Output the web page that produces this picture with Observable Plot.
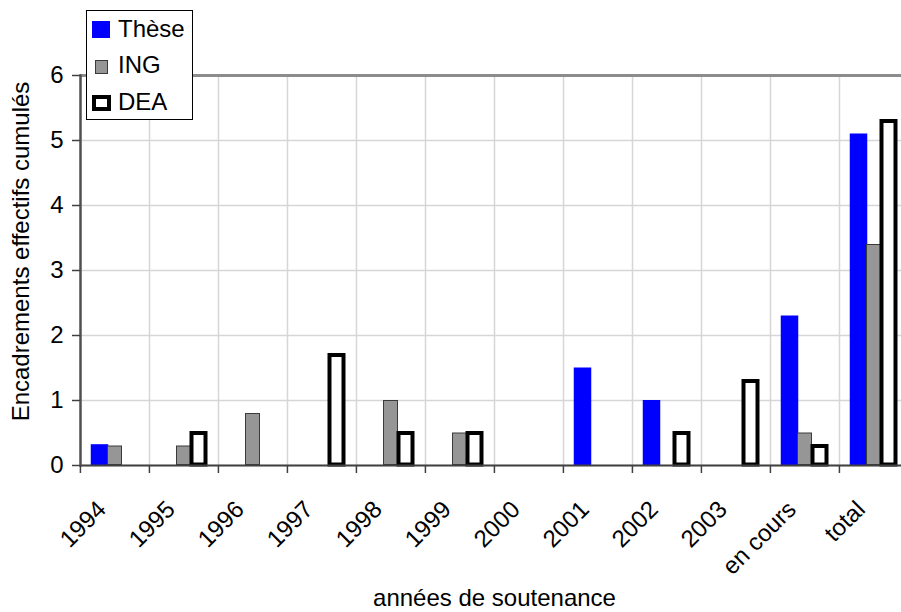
<!DOCTYPE html>
<html><head><meta charset="utf-8">
<script src="https://cdn.jsdelivr.net/npm/d3@7"></script>
<script src="https://cdn.jsdelivr.net/npm/@observablehq/plot@0.6"></script>
<style>
html,body{margin:0;padding:0;background:#fff;overflow:hidden;width:901px;height:612px}
#wrap{position:relative;width:901px;height:612px;overflow:hidden}
#chart svg{display:block;overflow:visible;max-width:none}
#legend{position:absolute;left:86px;top:10px;width:105px;height:108px;border:1px solid #000;background:#fff;font-family:"Liberation Sans",Arial,sans-serif;font-size:24px;color:#000}
#legend .lab{position:absolute;left:31px;line-height:24px;white-space:nowrap}
#legend .sw{position:absolute;box-sizing:border-box}
</style></head>
<body><div id="wrap"><div id="chart"></div><div id="legend"></div></div>
<script>
const categories = ["1994","1995","1996","1997","1998","1999","2000","2001","2002","2003","en cours","total"];
const seriesNames = ["Thèse","ING","DEA"];
const these = [0.32,0,0,0,0,0,0,1.5,1.0,0,2.3,5.1];
const ing   = [0.3,0.3,0.8,0,1.0,0.5,0,0,0,0,0.5,3.4];
const dea   = [0,0.5,0,1.7,0.5,0.5,0,0,0.5,1.3,0.3,5.3];
const yTicks = [0,1,2,3,4,5,6];
const xTitle = "années de soutenance";
const yTitle = "Encadrements effectifs cumulés";

const seriesValues = {"Thèse": these, "ING": ing, "DEA": dea};
const rows = [];
categories.forEach((c, i) => {
  seriesNames.forEach(s => rows.push({cat: c, serie: s, value: seriesValues[s][i]}));
});
const nz = s => rows.filter(d => d.serie === s && d.value > 0);

const W = 920, ML = 79, MR = 11;
const step = (W - ML - MR) / categories.length;
const font = '"Liberation Sans", Arial, sans-serif';

const chart = Plot.plot({
  width: W, height: 612,
  marginLeft: ML, marginRight: MR, marginTop: 75, marginBottom: 147,
  style: {fontFamily: font, fontSize: "24px", background: "transparent", color: "#000"},
  fx: {domain: categories, paddingInner: 0, paddingOuter: 0},
  x: {domain: seriesNames, paddingInner: 0, paddingOuter: 0.73, axis: null},
  y: {domain: [0, 6]},
  marks: [
    Plot.gridY(yTicks, {stroke: "#d6d6d6", strokeOpacity: 1, strokeWidth: 1.5}),
    Plot.frame({anchor: "left", stroke: "#d6d6d6", strokeWidth: 1.5}),
    Plot.barY(nz("Thèse"), {fx: "cat", x: "serie", y: "value", fill: "#0000ff", insetLeft: -1.25, insetRight: -1.25}),
    Plot.barY(nz("ING"), {fx: "cat", x: "serie", y: "value", fill: "#969696", stroke: "#3a3a3a", strokeWidth: 1, inset: 0.5}),
    Plot.barY(nz("DEA"), {fx: "cat", x: "serie", y: "value", fill: "#ffffff", stroke: "#000", strokeWidth: 4, inset: 0.5}),
    Plot.ruleY([6], {stroke: "#8c8c8c", strokeWidth: 3}),
    Plot.ruleY(categories, {fx: d => d, y: () => 0, stroke: "#404040", strokeWidth: 2}),
    Plot.frame({anchor: "left", stroke: "#505050", strokeWidth: 2.5, fx: () => categories[0]}),
    Plot.axisY({ticks: yTicks, tickFormat: d3.format("d"), tickSize: 8, tickPadding: 9, stroke: "#404040", strokeWidth: 1.5, label: null}),
    Plot.text([yTitle], {fx: () => categories[0], text: d => d, frameAnchor: "left", rotate: -90, dx: -59, dy: -19, textAnchor: "middle", fontSize: 24}),
    Plot.axisFx({anchor: "bottom", tickSize: 8, tickFormat: () => "", label: null, dx: -step / 2, stroke: "#404040", strokeWidth: 1.5}),
    Plot.axisFx({anchor: "bottom", tickSize: 0, tickRotate: -45, tickPadding: 40, dx: -13,
      label: xTitle, labelAnchor: "center", labelOffset: 140, labelArrow: "none"})
  ]
});
document.getElementById("chart").appendChild(chart);

// legend (HTML overlay)
const legend = document.getElementById("legend");
const legendItems = [
  {name: seriesNames[0], sw: "left:5px;top:10px;width:18px;height:17px;background:#0000ff", top: 5.7},
  {name: seriesNames[1], sw: "left:8px;top:49px;width:13px;height:14px;background:#969696;border:1px solid #3a3a3a", top: 41.7},
  {name: seriesNames[2], sw: "left:5px;top:84px;width:19px;height:16px;background:#fff;border:4px solid #000", top: 78.7}
];
legendItems.forEach(it => {
  const s = document.createElement("div"); s.className = "sw"; s.style.cssText = it.sw; legend.appendChild(s);
  const t = document.createElement("div"); t.className = "lab"; t.style.top = it.top + "px"; t.textContent = it.name; legend.appendChild(t);
});
</script>
</body></html>
